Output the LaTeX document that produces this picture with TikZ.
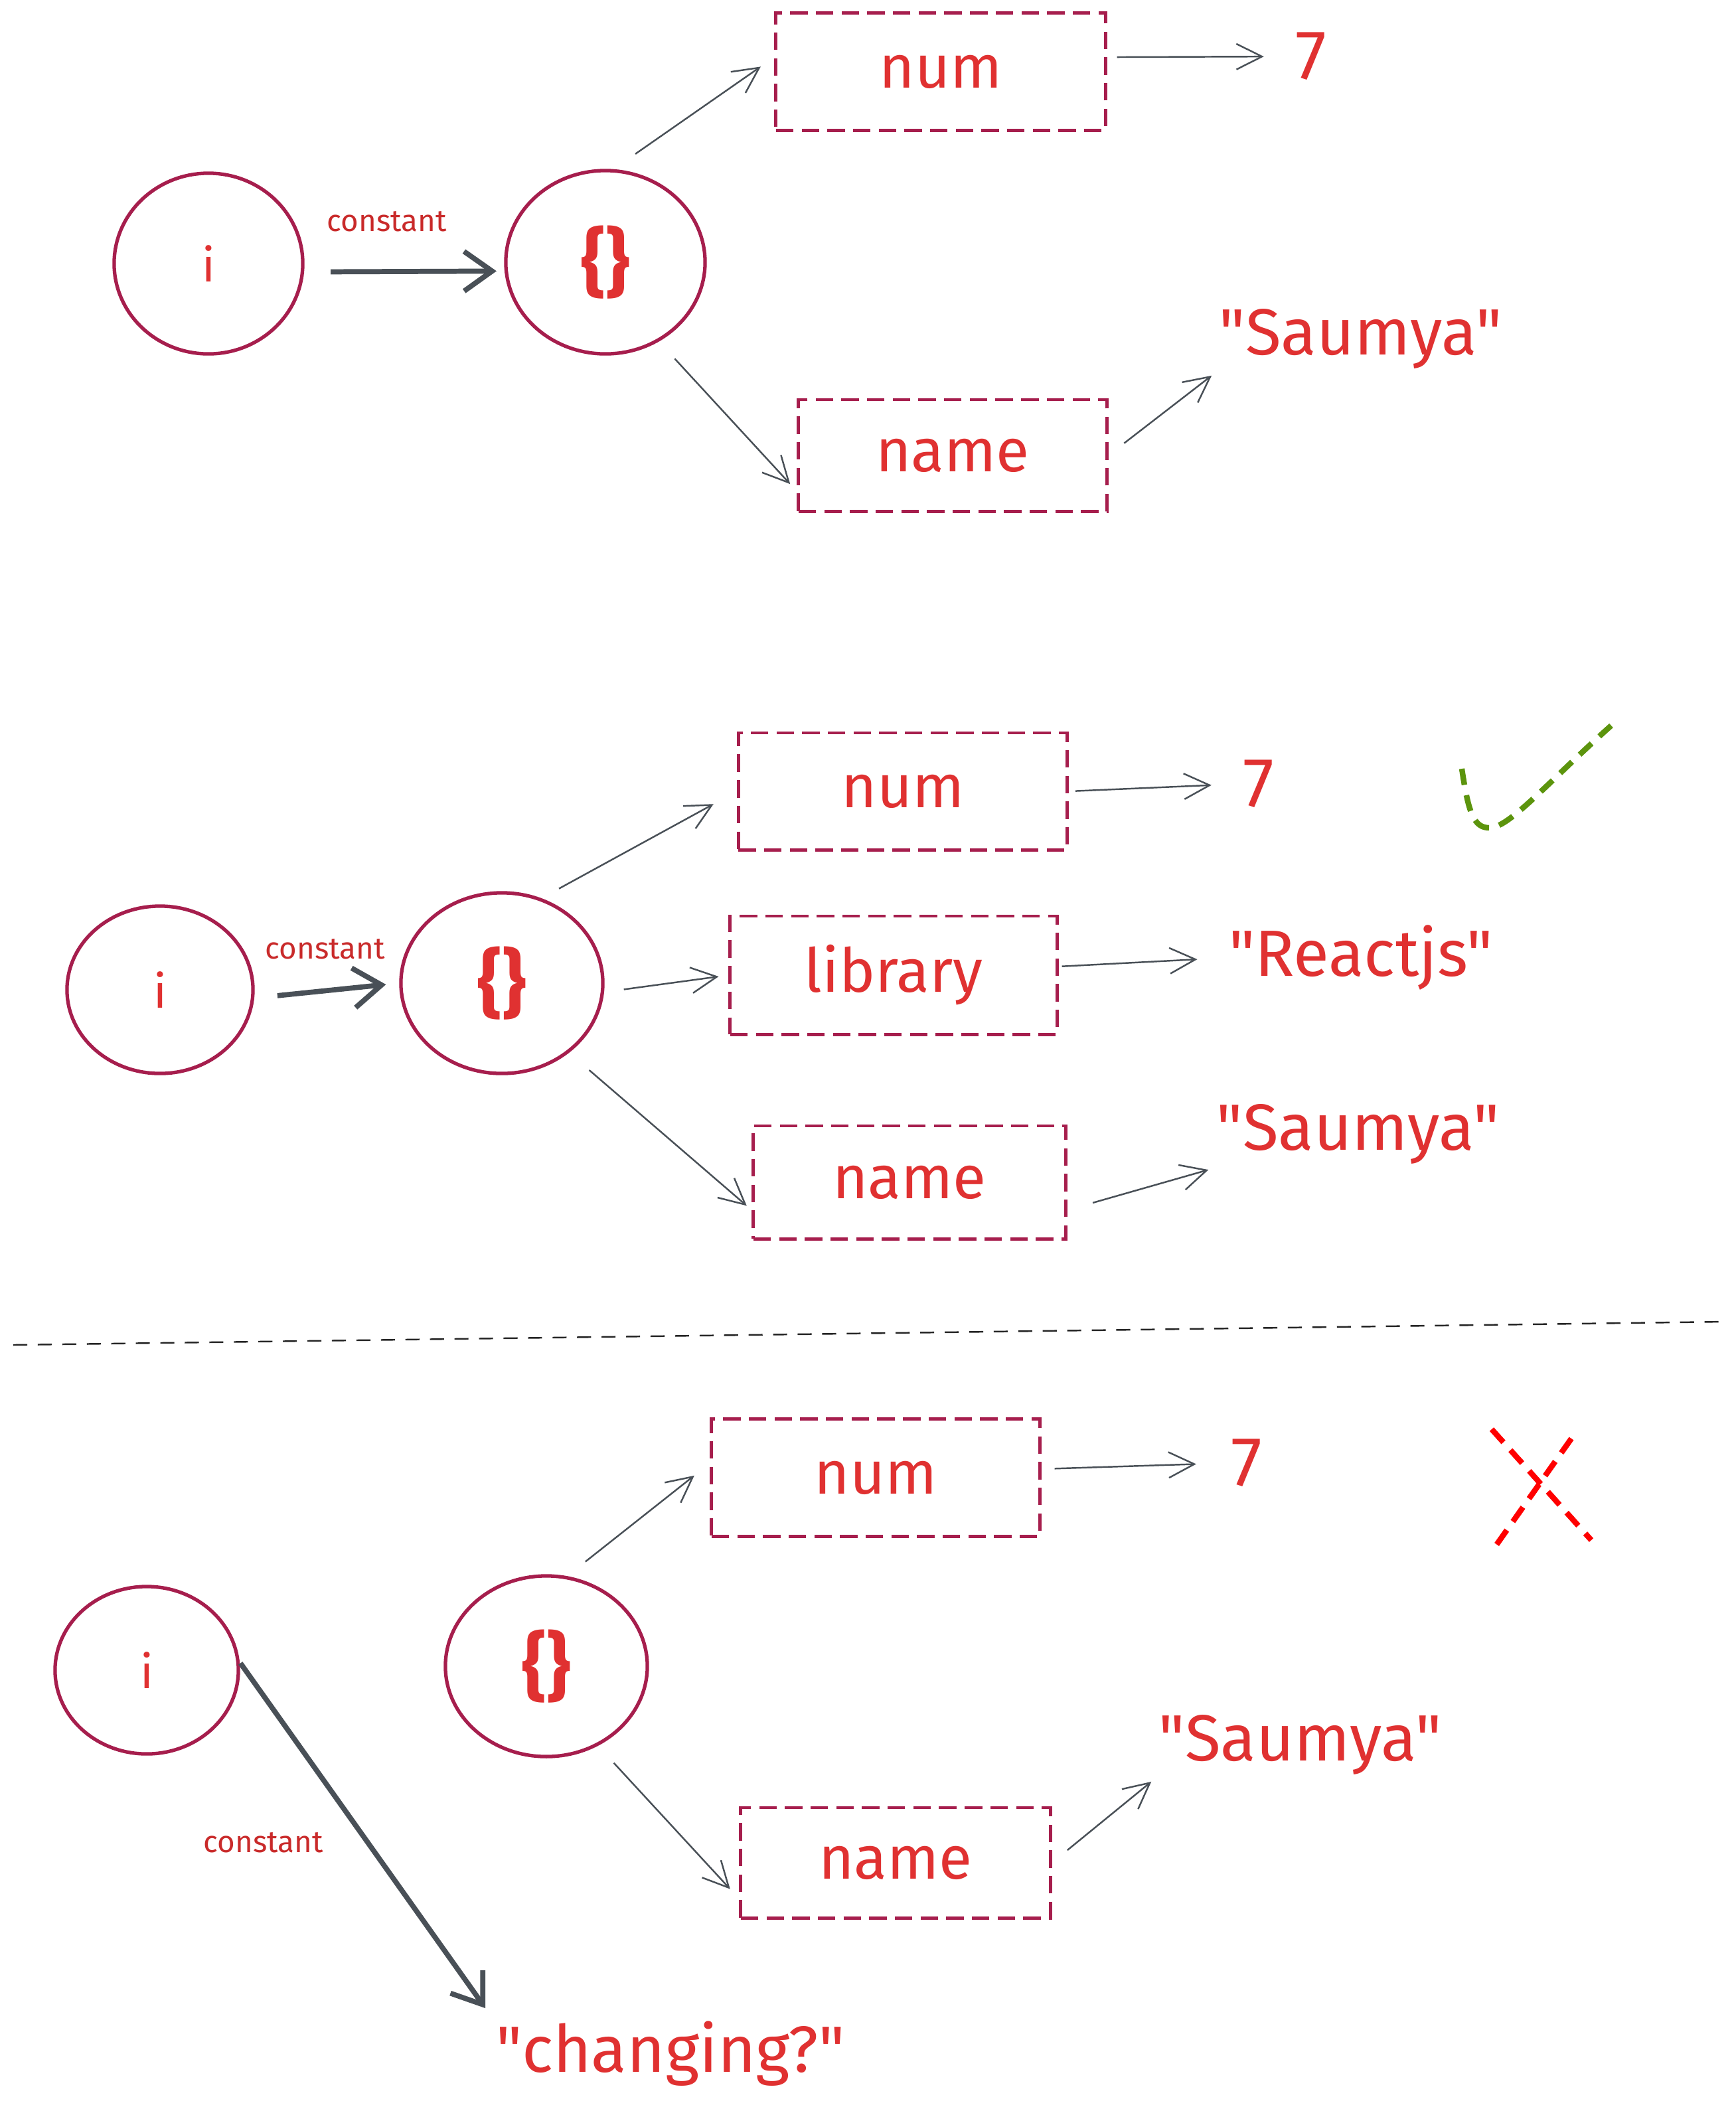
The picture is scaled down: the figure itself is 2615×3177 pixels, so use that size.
\documentclass[tikz,border=0pt]{standalone}
\usepackage{fontspec}
\setmainfont{Fira Sans}[Ligatures=TeXOff]
\usetikzlibrary{arrows.meta, shapes.geometric}

\definecolor{ringred}{HTML}{A61E4D}
\definecolor{inkred}{HTML}{E03131}
\definecolor{notered}{HTML}{C92A2A}
\definecolor{inkgray}{HTML}{495057}
\definecolor{tickgreen}{HTML}{5C940D}
\definecolor{crossred}{HTML}{FF0000}

\newcommand{\dq}{\symbol{34}}

\tikzset{
  ref/.style={ellipse, draw=ringred, line width=1.5pt, inner sep=0pt,
    text=inkred, font=\fontsize{20}{24}\selectfont},
  objref/.style={ref, font=\bfseries\fontsize{32}{38}\selectfont},
  field/.style={rectangle, draw=ringred, line width=1.4pt,
    dash pattern=on 7.5pt off 3.5pt, text=inkred,
    font=\fontsize{26}{30}\selectfont},
  value/.style={text=inkred, inner sep=2pt, font=\fontsize{28}{34}\selectfont},
  note/.style={text=notered, font=\fontsize{13}{15}\selectfont},
  link/.style={draw=inkgray, line width=0.7pt,
    -{Straight Barb[length=11pt, width=11pt]}},
  bond/.style={draw=inkgray, line width=2.2pt,
    -{Straight Barb[length=12pt, width=17pt]}},
}

\begin{document}
\begin{tikzpicture}[x=0.01cm, y=-0.01cm]
  \useasboundingbox[fill=white] (0,0) rectangle (2615,3177);

  % first state
  \node[ref, minimum width=2.84cm, minimum height=2.72cm] (i1) at (314,397) {i};
  \node[objref, minimum width=3cm, minimum height=2.76cm] (obj1) at (912,395) {\{\}};
  \node[note] (const1) at (583,334) {constant};
  \node[field, minimum width=4.96cm, minimum height=1.77cm] (num1) at (1417,108) {num};
  \node[field, minimum width=4.64cm, minimum height=1.68cm] (name1) at (1435,686) {name};
  \node[value, font=\fontsize{30}{34}\selectfont] (seven1) at (1975,85) {7};
  \node[value] (saumya1) at (2050,510) {\dq Saumya\dq};

  \draw[bond, shorten <=0.4cm, shorten >=0.12cm] (i1.-5) -- (obj1.185);
  \draw[link, shorten <=0.4cm, shorten >=0.25cm] (obj1.85) -- (num1.175);
  \draw[link, shorten <=0.15cm, shorten >=0.4cm] (num1.5) -- (seven1.west);
  \draw[link, shorten <=0.35cm, shorten >=0.15cm] (obj1.-56) -- (name1.193);
  \draw[link, shorten <=0.3cm, shorten >=0.05cm] (name1.east) -- (saumya1.south west);

  % second state: a new key is added
  \node[ref, minimum width=2.8cm, minimum height=2.52cm] (i2) at (241,1491) {i};
  \node[objref, minimum width=3.04cm, minimum height=2.72cm] (obj2) at (756,1481) {\{\}};
  \node[note] (const2) at (490,1430) {constant};
  \node[field, minimum width=4.95cm, minimum height=1.76cm] (num2) at (1360,1192) {num};
  \node[field, minimum width=4.92cm, minimum height=1.78cm] (lib2) at (1346,1469) {library};
  \node[field, minimum width=4.7cm, minimum height=1.7cm] (name2) at (1370,1781) {name};
  \node[value, font=\fontsize{30}{34}\selectfont] (seven2) at (1896,1181) {7};
  \node[value] (react2) at (2050,1443) {\dq Reactjs\dq};
  \node[value] (saumya2) at (2046,1708) {\dq Saumya\dq};

  \draw[bond, shorten <=0.35cm, shorten >=0.2cm] (i2.-5) -- (obj2.west);
  \draw[link, shorten <=0.3cm, shorten >=0.4cm] (obj2.65) -- (num2.west);
  \draw[link, shorten <=0.3cm, shorten >=0.15cm] (obj2.-5) -- (lib2.west);
  \draw[link, shorten <=0.4cm, shorten >=0.1cm] (obj2.-46) -- (name2.190);
  \draw[link, shorten <=0.1cm, shorten >=0.4cm] (num2.east) -- (seven2.west);
  \draw[link, shorten <=0.05cm, shorten >=0.4cm] (lib2.3) -- (react2.west);
  \draw[link, shorten <=0.4cm, shorten >=0.05cm] (name2.-10) -- (saumya2.south west);

  % tick
  \draw[tickgreen, line width=2.4pt, dash pattern=on 7pt off 4.5pt]
    (2202,1158) .. controls (2212,1225) and (2220,1248) .. (2245,1247)
    .. controls (2275,1245) and (2330,1180) .. (2427,1093);

  % separator
  \draw[black!85, line width=0.7pt, dash pattern=on 6pt off 4.5pt] (20,2026) -- (2597,1991);

  % third state: i is reassigned
  \node[ref, minimum width=2.76cm, minimum height=2.52cm] (i3) at (221,2516) {i};
  \node[objref, minimum width=3.04cm, minimum height=2.72cm] (obj3) at (823,2510) {\{\}};
  \node[note] (const3) at (397,2776) {constant};
  \node[field, minimum width=4.94cm, minimum height=1.77cm] (num3) at (1319,2226) {num};
  \node[field, minimum width=4.66cm, minimum height=1.66cm] (name3) at (1349,2806) {name};
  \node[value, font=\fontsize{30}{34}\selectfont] (seven3) at (1878,2204) {7};
  \node[value] (saumya3) at (1959,2628) {\dq Saumya\dq};
  \node[value] (chg3) at (1010,3094) {\dq changing?\dq};

  \draw[bond, shorten <=0.02cm, shorten >=0.15cm] (i3.5) -- (chg3.north west);
  \draw[link, shorten <=0.35cm, shorten >=0.3cm] (obj3.77) -- (num3.175);
  \draw[link, shorten <=0.2cm, shorten >=0.45cm] (num3.3) -- (seven3.west);
  \draw[link, shorten <=0.35cm, shorten >=0.2cm] (obj3.-57) -- (name3.193);
  \draw[link, shorten <=0.3cm, shorten >=0.05cm] (name3.east) -- (saumya3.south west);

  % cross
  \draw[crossred, line width=2.4pt, dash pattern=on 7.5pt off 4.5pt]
    (2247,2153) -- (2397,2320);
  \draw[crossred, line width=2.4pt, dash pattern=on 7.5pt off 4.5pt]
    (2367,2167) -- (2250,2333);
\end{tikzpicture}
\end{document}
